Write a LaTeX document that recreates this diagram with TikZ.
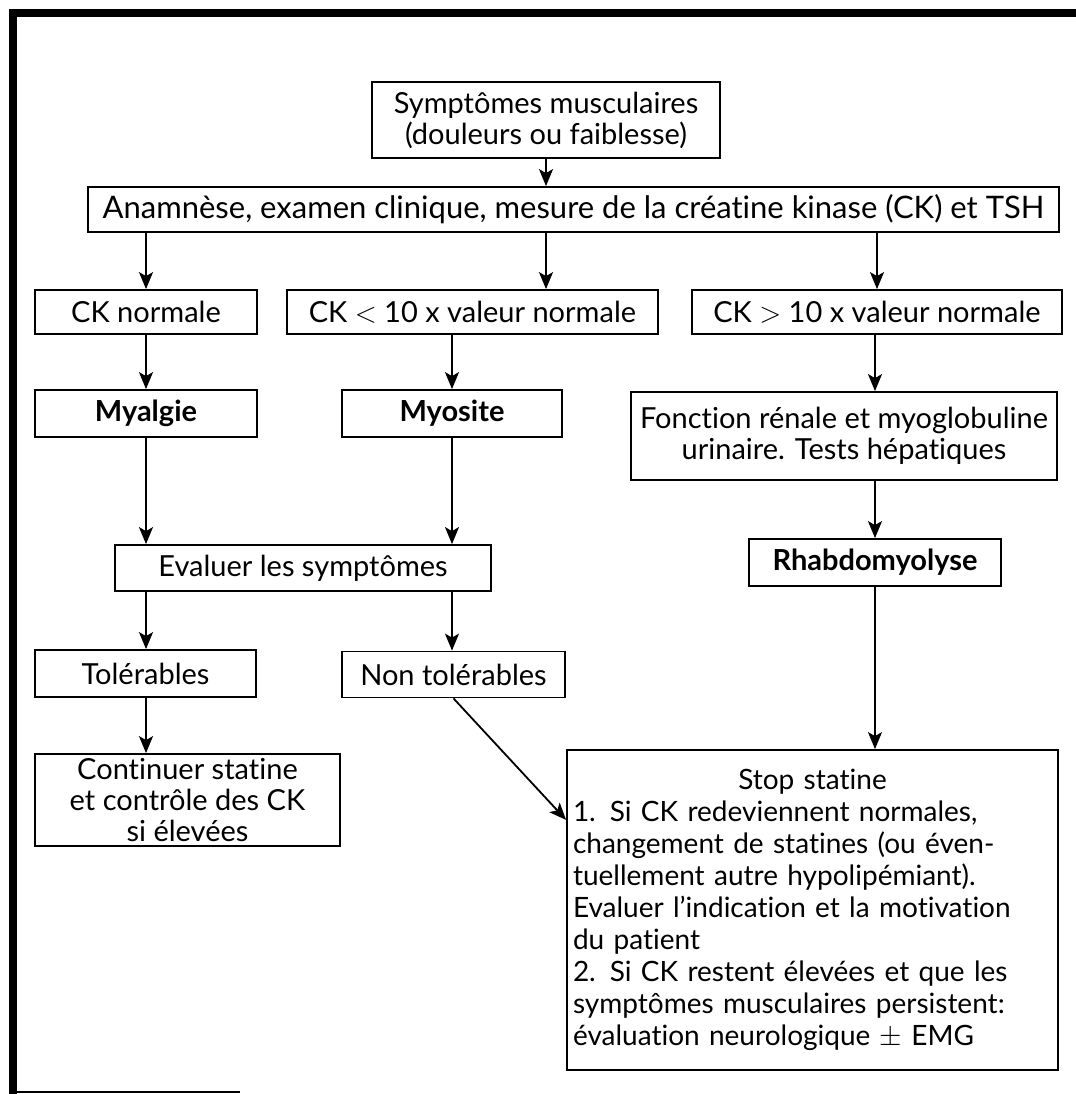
\documentclass[tikz,border=0pt]{standalone}
\usepackage{fontspec}
\setmainfont{Lato}[Ligatures=NoCommon]
\usetikzlibrary{arrows.meta,calc}
\tikzset{
  bx/.style={draw, line width=0.9pt, inner sep=0pt, align=center,
    font=\fontsize{14.5}{15.5}\selectfont},
  bxb/.style={bx, font=\fontsize{14.5}{15.5}\selectfont\bfseries},
  arr/.style={line width=0.9pt, -{Stealth[length=8.5pt,width=7pt,inset=2pt]}},
  frame/.style={fill=black}
}
\begin{document}
\begin{tikzpicture}[x=0.5pt,y=-0.5pt]
\useasboundingbox (0,0) rectangle (1076,1094);
% frame
\fill[frame] (9,9) rectangle (1076,17);
\fill[frame] (9,9) rectangle (17,1094);
\draw[line width=1pt] (9,1091.5) -- (240,1091.5);
% nodes
\node[bx, minimum width=174pt, minimum height=38pt] (b1) at (546,120)
  {Symptômes musculaires\\(douleurs ou faiblesse)};
\node[bx, minimum width=485.5pt, minimum height=22.5pt, font=\fontsize{15.5}{16}\selectfont] (b2) at (573.5,209.5)
  {Anamnèse, examen clinique, mesure de la créatine kinase (CK) et TSH};
\node[bx, minimum width=111pt, minimum height=22pt] (cknorm) at (146,312) {CK normale};
\node[bx, minimum width=185.5pt, minimum height=22pt] (cklt) at (472.5,312) {CK $<$ 10 x valeur normale};
\node[bx, minimum width=185pt, minimum height=22pt] (ckgt) at (877,312) {CK $>$ 10 x valeur normale};
\node[bxb, minimum width=111pt, minimum height=23.5pt] (myalgie) at (146,413.5) {Myalgie};
\node[bxb, minimum width=110pt, minimum height=23.5pt] (myosite) at (452,413.5) {Myosite};
\node[bx, minimum width=213pt, minimum height=44pt] (fonction) at (844,436)
  {Fonction rénale et myoglobuline\\urinaire. Tests hépatiques};
\node[bx, minimum width=188pt, minimum height=23pt] (evaluer) at (303,568) {Evaluer les symptômes};
\node[bxb, minimum width=126pt, minimum height=23.5pt] (rhabdo) at (875,562.5) {Rhabdomyolyse};
\node[bx, minimum width=110.5pt, minimum height=23.5pt] (tol) at (145.5,673.5) {Tolérables};
\node[bx, minimum width=111.5pt, minimum height=23pt] (nontol) at (453.5,674.5) {Non tolérables};
\node[bx, minimum width=152.5pt, minimum height=46pt] (cont) at (187.5,800)
  {Continuer statine\\et contrôle des CK\\si élevées};
\node[bx, minimum width=245.5pt, minimum height=160pt, align=left, text width=239.5pt,
  inner xsep=3pt, font=\fontsize{14}{16}\selectfont] (stop) at (812.5,910)
  {\centerline{Stop statine}
   1. Si CK redeviennent normales,\\
   changement de statines (ou éven-\\
   tuellement autre hypolipémiant).\\
   Evaluer l'indication et la motivation\\
   du patient\\
   2. Si CK restent élevées et que les\\
   symptômes musculaires persistent:\\
   évaluation neurologique $\pm$ EMG};
% connectors
\draw[arr] (b1.south) -- (b2.north -| b1.south);
\draw[arr] (b2.south -| cknorm.north) -- (cknorm.north);
\draw[arr] (b2.south -| b1.south) -- (cklt.north -| b1.south);
\draw[arr] (b2.south -| ckgt.north) -- (ckgt.north);
\draw[arr] (cknorm.south) -- (myalgie.north);
\draw[arr] (cklt.south -| myosite.north) -- (myosite.north);
\draw[arr] (ckgt.south -| rhabdo.north) -- (fonction.north -| rhabdo.north);
\draw[arr] (fonction.south -| rhabdo.north) -- (rhabdo.north);
\draw[arr] (myalgie.south) -- (evaluer.north -| myalgie.south);
\draw[arr] (myosite.south) -- (evaluer.north -| myosite.south);
\draw[arr] (evaluer.south -| myalgie.south) -- (tol.north -| myalgie.south);
\draw[arr] (evaluer.south -| myosite.south) -- (nontol.north -| myosite.south);
\draw[arr] (tol.south -| myalgie.south) -- (cont.north -| myalgie.south);
\draw[arr] (rhabdo.south) -- (stop.north -| rhabdo.south);
\draw[arr] (nontol.south) -- ($(stop.north west)!0.22!(stop.south west)$);
\end{tikzpicture}
\end{document}
